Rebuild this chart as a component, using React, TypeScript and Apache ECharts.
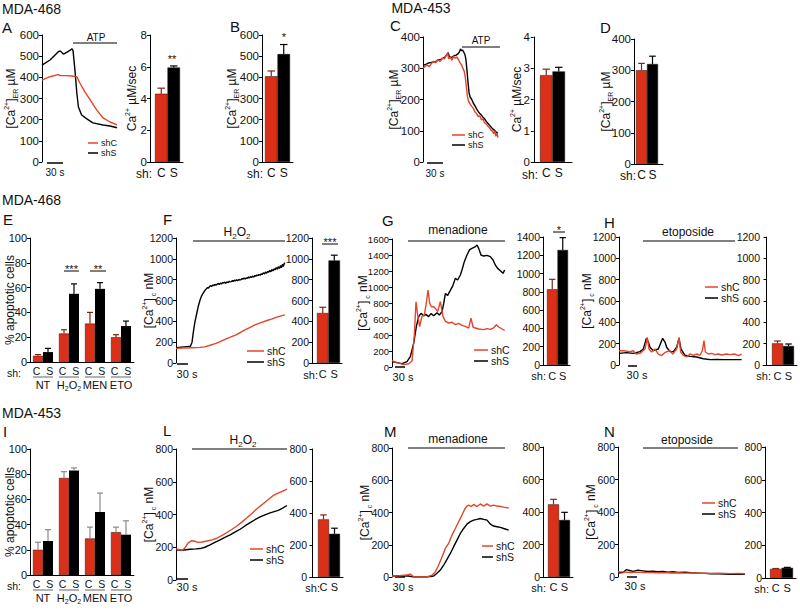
import React, { useEffect, useRef } from 'react';
import * as echarts from 'echarts';

const FONT = '"Liberation Sans", Arial, Helvetica, sans-serif';
const INK = '#111111';
const RED_BAR = '#dc2f17';
const RED_LINE = '#e4442a';
const BLACK = '#000000';
const ERR_RED = '#7d2417';
const ERR_GREY = '#8a8a8a';

// ---------------- Data ----------------
const SH_NAMES = ['shC', 'shS'];
const GROUPS = ['NT', 'H2O2', 'MEN', 'ETO'];

// A: MDA-468 [Ca2+]ER traces [time (s), µM]
const aTraceShC = [[0,387],[15,403],[30,413],[34,408],[40,408],[46,408],[55,406],[65,403],[71,372],[80,331],[90,293],[102,246],[114,208],[127,189],[140,175]];
const aTraceShS = [[0,458],[15,482],[30,520],[34,525],[40,510],[46,518],[52,527],[56,535],[58,525],[62,420],[65,326],[68,260],[74,222],[83,205],[95,185],[114,175],[127,170],[140,162]];
const aRate = [4.3, 5.95];
const aRateErr = [4.65, 6.05];
// B
const bStore = [405, 510];
const bStoreErr = [430, 555];
// C: MDA-453 [Ca2+]ER traces
const cTraceShC = [[0,300],[4,306],[8,310],[12,305],[16,316],[20,322],[24,318],[28,328],[32,322],[36,332],[40,330],[43,340],[46,348],[48,330],[51,336],[54,326],[57,338],[60,332],[63,336],[66,328],[69,318],[72,310],[75,298],[77,290],[79,270],[81,240],[83,210],[85,195],[88,185],[91,178],[94,172],[97,160],[100,155],[103,145],[106,148],[109,135],[112,138],[115,125],[118,122],[121,115],[124,110],[127,102],[130,98],[132,90],[134,100],[136,82],[138,92],[140,78]];
const cTraceShS = [[0,310],[5,312],[9,316],[14,318],[19,320],[24,322],[28,326],[33,328],[37,332],[41,336],[44,342],[47,350],[49,338],[52,334],[55,336],[58,340],[62,342],[65,346],[68,352],[70,362],[72,356],[74,358],[76,352],[78,345],[80,330],[82,295],[84,255],[86,222],[88,208],[91,200],[94,188],[97,180],[100,170],[103,162],[106,155],[109,150],[112,143],[115,138],[118,130],[121,124],[124,118],[127,112],[130,106],[133,102],[136,97],[138,94],[140,92]];
const cRate = [2.78, 2.9];
const cRateErr = [2.97, 3.03];
// D
const dStore = [300, 320];
const dStoreErr = [322, 345];
// E: MDA-468 % apoptotic cells
const eApopC = [5, 23, 31, 20];
const eApopCErr = [6, 26, 40, 22];
const eApopS = [8, 55, 59, 29];
const eApopSErr = [11, 63, 64, 33];
// F: H2O2 [Ca2+]c traces (nM)
const fTraceShC = [[0,140],[20,143],[40,147],[60,150],[72,155],[85,170],[100,188],[110,205],[125,232],[142,258],[150,270],[160,292],[172,318],[185,343],[197,366],[212,388],[227,408],[240,424],[250,438],[260,450],[272,462]];
const fTraceShS = [[0,150],[10,152],[20,155],[30,158],[36,160],[40,200],[43,290],[47,390],[52,480],[56,550],[60,605],[64,645],[68,672],[73,700],[76,712],[79,725],[81,718],[84,736],[87,742],[89,735],[92,748],[95,744],[97,755],[100,747],[103,758],[106,764],[108,753],[111,766],[114,760],[116,771],[119,768],[122,776],[124,764],[127,779],[130,772],[133,786],[135,778],[138,782],[141,792],[143,781],[146,795],[149,788],[151,799],[154,790],[157,803],[159,797],[162,800],[165,812],[167,803],[170,815],[173,806],[175,818],[178,812],[181,826],[183,815],[186,829],[189,821],[191,834],[194,825],[197,840],[199,832],[202,845],[205,838],[207,850],[210,842],[213,858],[215,849],[218,866],[221,855],[223,873],[226,862],[229,880],[231,870],[234,889],[237,877],[239,898],[242,884],[245,905],[247,893],[250,915],[253,899],[255,925],[258,908],[261,935],[263,915],[266,948],[268,925],[270,955],[272,962]];
const fPeak = [480, 985];
const fPeakErr = [535, 1035];
// G: menadione
const gTraceShC = [[0,80],[15,55],[35,30],[50,40],[60,75],[67,400],[72,816],[77,650],[83,504],[90,636],[97,650],[103,800],[108,962],[113,800],[118,754],[125,754],[130,733],[137,692],[145,817],[150,700],[153,633],[160,571],[170,550],[180,560],[190,529],[200,545],[210,520],[220,508],[230,487],[237,612],[243,500],[250,487],[260,475],[275,467],[285,480],[295,470],[305,490],[313,529],[320,500],[330,475],[338,458]];
const gTraceShS = [[0,67],[15,54],[30,42],[45,67],[55,129],[65,296],[73,504],[80,629],[87,671],[95,640],[102,658],[110,630],[117,667],[125,640],[135,679],[142,650],[150,690],[155,792],[160,917],[167,896],[175,958],[183,1021],[190,1108],[197,1087],[205,1150],[210,1212],[217,1317],[225,1400],[233,1467],[240,1483],[250,1504],[255,1525],[260,1483],[267,1400],[275,1387],[285,1396],[295,1379],[303,1337],[310,1275],[317,1233],[325,1204],[333,1171],[338,1212]];
const gPeak = [828, 1258];
const gPeakErr = [937, 1393];
// H: etoposide
const hTraceShC = [[0,134],[13,134],[33,125],[43,134],[51,103],[63,109],[78,150],[85,259],[90,150],[98,122],[108,150],[118,103],[128,88],[138,118],[153,134],[161,103],[173,150],[180,259],[185,122],[193,91],[203,75],[213,103],[223,91],[233,103],[243,91],[250,134],[255,228],[259,122],[268,103],[278,109],[288,97],[298,103],[308,94],[323,103],[333,97],[348,103],[358,88],[368,103]];
const hTraceShS = [[0,109],[23,116],[43,109],[63,125],[73,150],[82,250],[88,215],[93,166],[103,134],[118,150],[131,250],[138,215],[143,166],[153,125],[163,125],[173,166],[180,250],[186,150],[198,91],[213,81],[233,75],[253,59],[273,50],[293,53],[313,50],[333,50],[368,50]];
const hPeak = [203, 178];
const hPeakErr = [225, 197];
// I: MDA-453 % apoptotic cells
const iApopC = [20, 77, 29, 34];
const iApopCErr = [26, 82, 38, 38];
const iApopS = [27, 83, 50, 32];
const iApopSErr = [36, 85, 65, 43];
// L: H2O2 (MDA-453)
const lTraceShC = [[0,190],[10,185],[15,180],[22,195],[30,225],[38,240],[45,238],[55,230],[65,232],[77,238],[90,245],[102,255],[115,272],[127,290],[140,310],[152,330],[165,355],[177,380],[190,408],[202,435],[212,455],[222,475],[232,495],[242,515],[252,527],[262,538],[270,547],[277,555]];
const lTraceShS = [[0,185],[15,182],[35,188],[50,190],[60,192],[72,200],[85,215],[97,230],[110,245],[122,260],[135,275],[147,292],[160,310],[172,330],[185,350],[197,368],[210,385],[222,398],[235,410],[245,418],[255,425],[265,438],[277,455]];
const lPeak = [360, 270];
const lPeakErr = [388, 305];
// M: menadione (MDA-453)
const mTraceShC = [[0,6],[20,8],[45,12],[55,19],[65,2],[85,0],[105,0],[120,12],[130,31],[140,74],[150,124],[160,177],[170,208],[180,260],[190,301],[200,343],[210,384],[218,420],[225,440],[230,446],[238,437],[245,450],[255,437],[265,453],[275,440],[285,453],[295,440],[305,446],[315,440],[325,437],[335,433],[350,428]];
const mTraceShS = [[0,6],[45,8],[65,0],[105,0],[125,6],[135,23],[145,43],[155,74],[165,109],[175,146],[185,188],[195,229],[205,270],[215,301],[225,328],[235,343],[245,353],[255,357],[265,363],[275,357],[285,353],[295,328],[305,316],[315,312],[325,308],[335,301],[350,291]];
const mPeak = [447, 351];
const mPeakErr = [478, 398];
// N: etoposide (MDA-453)
const nTraceShC = [[0,32],[20,30],[40,28],[60,30],[80,27],[100,28],[120,26],[140,27],[160,25],[180,26],[200,24],[220,25],[240,23],[260,24],[280,22],[300,23],[320,22],[340,21],[360,22],[381,20]];
const nTraceShS = [[0,25],[15,28],[25,45],[35,40],[45,35],[60,42],[75,38],[90,34],[105,36],[120,32],[135,34],[150,30],[165,32],[180,28],[200,30],[220,26],[240,24],[260,22],[280,20],[300,19],[320,18],[340,17],[360,18],[381,16]];
const nPeak = [55, 62];
const nPeakErr = [58, 65];

// ---------------- Helpers ----------------
const RICH = {
  n: { fontSize: 12, lineHeight: 16, fontFamily: FONT, color: INK },
  sup: { fontSize: 7, lineHeight: 16, verticalAlign: 'top', fontFamily: FONT, color: INK },
  sub: { fontSize: 7, lineHeight: 16, verticalAlign: 'bottom', fontFamily: FONT, color: INK },
  g: { fontSize: 11, lineHeight: 15, fontFamily: FONT, color: INK },
  gs: { fontSize: 7, lineHeight: 15, verticalAlign: 'bottom', fontFamily: FONT, color: INK },
  t: { fontSize: 12, lineHeight: 16, fontFamily: FONT, color: INK },
  ts: { fontSize: 8, lineHeight: 16, verticalAlign: 'bottom', fontFamily: FONT, color: INK },
  cs: { fontSize: 10.5, lineHeight: 13, fontFamily: FONT, color: INK },
};
const NAME_ER = '{n|[Ca}{sup|2+}{n|]}{sub|ER}{n| \u00b5M}';
const NAME_C = '{n|[Ca}{sup|2+}{n|]}{sub| c}{n| nM}';
const NAME_RATE = '{n|Ca}{sup|2+}{n| \u00b5M/sec}';
const NAME_APOP = '{n|% apoptotic cells}';
const groupLabel = (g: string) => (g === 'H2O2' ? '{g|H}{gs|2}{g|O}{gs|2}' : '{g|' + g + '}');

function yAxisCfg(gi: number, max: number, interval: number, name: string, nameGap: number, fs: number) {
  return {
    type: 'value', gridIndex: gi, min: 0, max, interval,
    axisLine: { show: true, lineStyle: { color: BLACK, width: 1 } },
    axisTick: { show: true, length: 3, inside: false, lineStyle: { color: BLACK, width: 1 } },
    axisLabel: { show: true, fontSize: fs, fontFamily: FONT, color: INK, margin: 3, formatter: (v: number) => String(v) },
    splitLine: { show: false },
    name, nameLocation: 'middle', nameGap, nameRotate: 90, nameMoveOverlap: false,
    nameTextStyle: { fontSize: 12, fontFamily: FONT, color: INK, lineHeight: 16, rich: RICH },
  };
}

function errSeries(gi: number, data: number[][], half: number, colors: string[], offset: number) {
  return {
    type: 'custom', xAxisIndex: gi, yAxisIndex: gi, data, z: 5, silent: true,
    renderItem: (params: any, api: any) => {
      const x = api.value(0), v = api.value(1), e = api.value(2);
      const a = api.coord([x, v]);
      const b = api.coord([x, e]);
      const cx = a[0] + offset;
      const stroke = colors[params.dataIndex % colors.length];
      return {
        type: 'group',
        children: [
          { type: 'line', shape: { x1: cx, y1: a[1], x2: cx, y2: b[1] }, style: { stroke, lineWidth: 1.2 } },
          { type: 'line', shape: { x1: cx - half, y1: b[1], x2: cx + half, y2: b[1] }, style: { stroke, lineWidth: 1.2 } },
        ],
      };
    },
  };
}

function buildOption() {
  const grids: any[] = [];
  const xAxes: any[] = [];
  const yAxes: any[] = [];
  const series: any[] = [];

  const addTrace = (p: any, shC: number[][], shS: number[][]) => {
    const gi = grids.length;
    grids.push({ left: p.x, top: p.top, width: p.w, height: p.zero - p.top, outerBoundsMode: 'none' });
    xAxes.push({ type: 'value', gridIndex: gi, min: 0, max: p.tmax, show: false });
    yAxes.push(yAxisCfg(gi, p.ymax, p.iv, p.name, p.gap, p.fs));
    series.push({ type: 'line', name: SH_NAMES[1], xAxisIndex: gi, yAxisIndex: gi, data: shS, showSymbol: false, symbol: 'none', silent: true, lineStyle: { color: BLACK, width: 1.4 }, itemStyle: { color: BLACK } });
    series.push({ type: 'line', name: SH_NAMES[0], xAxisIndex: gi, yAxisIndex: gi, data: shC, showSymbol: false, symbol: 'none', silent: true, lineStyle: { color: RED_LINE, width: 1.4 }, itemStyle: { color: RED_LINE } });
  };

  const addPair = (p: any, vals: number[], errs: number[]) => {
    const gi = grids.length;
    const u = p.bw;
    const xmin = 0.5 - (p.bl - p.x) / u;
    const xmax = xmin + (p.xe - p.x) / u;
    grids.push({ left: p.x, top: p.top, width: p.xe - p.x, height: p.zero - p.top, outerBoundsMode: 'none' });
    xAxes.push({
      type: 'value', gridIndex: gi, min: xmin, max: xmax,
      axisLine: { show: true, onZero: false, lineStyle: { color: BLACK, width: 1 } },
      axisTick: { show: false }, splitLine: { show: false },
      axisLabel: { show: true, customValues: [1, 2], formatter: (v: number) => (v === 1 ? 'C' : v === 2 ? 'S' : ''), fontSize: p.lfs, fontFamily: FONT, color: INK, margin: p.lm },
    });
    yAxes.push(yAxisCfg(gi, p.ymax, p.iv, p.name || '', p.gap || 0, p.fs));
    series.push({
      type: 'bar', xAxisIndex: gi, yAxisIndex: gi, barWidth: u, silent: true,
      data: vals.map((v, i) => ({ value: [i + 1, v], itemStyle: { color: i === 0 ? RED_BAR : BLACK } })),
      itemStyle: { borderColor: '#2a0a05', borderWidth: 0.5 },
    });
    series.push(errSeries(gi, vals.map((v, i) => [i + 1, v, errs[i]]), u * 0.3, [ERR_RED, BLACK], 0));
  };

  const addGroup = (p: any, c: number[], ce: number[], s: number[], se: number[], errCols: string[]) => {
    const gi = grids.length;
    grids.push({ left: p.x, top: p.top, width: p.w, height: p.zero - p.top, outerBoundsMode: 'none' });
    xAxes.push({
      type: 'category', gridIndex: gi, data: GROUPS,
      axisLine: { show: true, lineStyle: { color: BLACK, width: 1 } },
      axisTick: { show: false }, splitLine: { show: false },
      axisLabel: { show: true, interval: 0, margin: 2, formatter: (v: string) => '{cs|C  S}\n' + groupLabel(v), rich: RICH },
    });
    yAxes.push(yAxisCfg(gi, 100, 20, NAME_APOP, p.gap, 11));
    series.push({ type: 'bar', xAxisIndex: gi, yAxisIndex: gi, data: c, barWidth: 10, barGap: '0%', silent: true, itemStyle: { color: RED_BAR, borderColor: '#2a0a05', borderWidth: 0.5 } });
    series.push({ type: 'bar', xAxisIndex: gi, yAxisIndex: gi, data: s, barWidth: 10, barGap: '0%', silent: true, itemStyle: { color: BLACK } });
    series.push(errSeries(gi, c.map((v, i) => [i, v, ce[i]]), 3, [errCols[0]], -5));
    series.push(errSeries(gi, s.map((v, i) => [i, v, se[i]]), 3, [errCols[1]], 5));
  };

  // ---- top row ----
  addTrace({ x: 42, top: 35, zero: 162, w: 75, tmax: 140, ymax: 600, iv: 100, name: NAME_ER, gap: 23, fs: 11.5 }, aTraceShC, aTraceShS);
  addPair({ x: 150, top: 35, zero: 162, bw: 12.5, bl: 155, xe: 183, ymax: 8, iv: 2, name: NAME_RATE, gap: 10, fs: 11.5, lm: 5, lfs: 12 }, aRate, aRateErr);
  addPair({ x: 262, top: 35, zero: 162, bw: 12.5, bl: 265, xe: 293, ymax: 600, iv: 100, name: NAME_ER, gap: 22, fs: 11.5, lm: 5, lfs: 12 }, bStore, bStoreErr);
  addTrace({ x: 423, top: 37, zero: 162, w: 75, tmax: 140, ymax: 400, iv: 100, name: NAME_ER, gap: 21, fs: 11.5 }, cTraceShC, cTraceShS);
  addPair({ x: 533, top: 37, zero: 162, bw: 12.5, bl: 540, xe: 572, ymax: 4, iv: 1, name: NAME_RATE, gap: 8, fs: 11.5, lm: 5, lfs: 12 }, cRate, cRateErr);
  addPair({ x: 634, top: 39, zero: 164, bw: 11, bl: 636, xe: 663, ymax: 400, iv: 100, name: NAME_ER, gap: 20, fs: 11.5, lm: 5, lfs: 12 }, dStore, dStoreErr);
  // ---- middle row ----
  addGroup({ x: 30, top: 238, zero: 362, w: 104, gap: 12 }, eApopC, eApopCErr, eApopS, eApopSErr, [ERR_RED, BLACK]);
  addTrace({ x: 176, top: 238, zero: 363, w: 109, tmax: 272, ymax: 1200, iv: 200, name: NAME_C, gap: 19, fs: 10.5 }, fTraceShC, fTraceShS);
  addPair({ x: 312, top: 238, zero: 363, bw: 11.5, bl: 317, xe: 342, ymax: 1200, iv: 200, fs: 10.5, lm: 5, lfs: 11 }, fPeak, fPeakErr);
  addTrace({ x: 392, top: 239, zero: 367, w: 113, tmax: 339, ymax: 1600, iv: 200, name: NAME_C, gap: 21, fs: 9.5 }, gTraceShC, gTraceShS);
  addPair({ x: 543, top: 237, zero: 365, bw: 10.5, bl: 547, xe: 570, ymax: 1400, iv: 200, fs: 10.5, lm: 5, lfs: 11 }, gPeak, gPeakErr);
  addTrace({ x: 619, top: 237, zero: 365, w: 123, tmax: 369, ymax: 1200, iv: 200, name: NAME_C, gap: 24, fs: 10.5 }, hTraceShC, hTraceShS);
  addPair({ x: 763, top: 237, zero: 365, bw: 11, bl: 772, xe: 797, ymax: 1200, iv: 200, fs: 10.5, lm: 5, lfs: 11 }, hPeak, hPeakErr);
  // ---- bottom row ----
  addGroup({ x: 30, top: 449, zero: 575, w: 104, gap: 12 }, iApopC, iApopCErr, iApopS, iApopSErr, [ERR_GREY, ERR_GREY]);
  addTrace({ x: 176, top: 449, zero: 580, w: 111, tmax: 277, ymax: 800, iv: 200, name: NAME_C, gap: 19, fs: 10.5 }, lTraceShC, lTraceShS);
  addPair({ x: 310, top: 449, zero: 577, bw: 11, bl: 318, xe: 343, ymax: 800, iv: 200, fs: 10.5, lm: 4, lfs: 11 }, lPeak, lPeakErr);
  addTrace({ x: 392, top: 448, zero: 577, w: 118, tmax: 354, ymax: 800, iv: 200, name: NAME_C, gap: 19, fs: 10.5 }, mTraceShC, mTraceShS);
  addPair({ x: 543, top: 447, zero: 577, bw: 11, bl: 548, xe: 573, ymax: 800, iv: 200, fs: 10.5, lm: 4, lfs: 11 }, mPeak, mPeakErr);
  addTrace({ x: 618, top: 447, zero: 577, w: 127, tmax: 381, ymax: 800, iv: 200, name: NAME_C, gap: 19, fs: 10.5 }, nTraceShC, nTraceShS);
  addPair({ x: 765, top: 447, zero: 578, bw: 11.5, bl: 770, xe: 796, ymax: 800, iv: 200, fs: 10.5, lm: 4, lfs: 11 }, nPeak, nPeakErr);

  // ---- annotations ----
  const g: any[] = [];
  const T = (x: number, y: number, text: string, fs = 12, align = 'left', rich?: any) =>
    g.push({ type: 'text', x, y, silent: true, style: { text, fontSize: fs, fontFamily: FONT, fill: INK, align, textAlign: align, verticalAlign: 'middle', textVerticalAlign: 'middle', rich } });
  const Ln = (x1: number, y1: number, x2: number, y2: number, stroke = BLACK, w = 1) =>
    g.push({ type: 'line', silent: true, shape: { x1, y1, x2, y2 }, style: { stroke, lineWidth: w } });
  const legend = (x: number, y: number, dy: number, len: number, fs: number) => {
    Ln(x, y, x + len, y, RED_LINE, 1.5);
    T(x + len + 3, y, SH_NAMES[0], fs);
    Ln(x, y + dy, x + len, y + dy, BLACK, 1.5);
    T(x + len + 3, y + dy, SH_NAMES[1], fs);
  };
  const h2o2 = '{t|H}{ts|2}{t|O}{ts|2}';

  // titles & letters
  T(2, 9, 'MDA-468', 14); T(2, 27, 'A', 15); T(230, 26, 'B', 15);
  T(421, 8, 'MDA-453', 14, 'center'); T(390, 25, 'C', 15); T(600, 27, 'D', 15);
  T(2, 200, 'MDA-468', 14); T(3, 219, 'E', 15); T(163, 219, 'F', 15); T(382, 220, 'G', 15); T(604, 222, 'H', 15);
  T(2, 413, 'MDA-453', 14); T(3, 431, 'I', 15); T(163, 430, 'L', 15); T(384, 431, 'M', 15); T(604, 431, 'N', 15);

  // treatment bars
  Ln(73, 43, 117, 43); T(96, 37, 'ATP', 10, 'center');
  Ln(462, 47, 500, 47); T(481, 40, 'ATP', 10, 'center');
  Ln(193, 241, 285, 241); T(237, 232, h2o2, 12, 'center', RICH);
  Ln(408, 241, 505, 241); T(458, 230, 'menadione', 12, 'center');
  Ln(643, 241, 735, 241); T(688, 232, 'etoposide', 12, 'center');
  Ln(192, 449, 287, 449); T(243, 440, h2o2, 12, 'center', RICH);
  Ln(408, 448, 505, 448); T(458, 439, 'menadione', 12, 'center');
  Ln(643, 448, 738, 448); T(687, 440, 'etoposide', 12, 'center');

  // time scale bars
  const sb = (x1: number, x2: number, y: number, tx: number, ty: number, fs: number) => { Ln(x1, y, x2, y, BLACK, 1.5); T(tx, ty, '30 s', fs, 'center'); };
  sb(47, 63, 163, 55, 172, 10);
  sb(427, 443, 163, 435, 173, 10);
  sb(177, 188, 364, 187, 374, 11);
  sb(395, 405, 367, 403, 377, 11);
  sb(628, 637, 366, 637, 375, 11);
  sb(176, 188, 579, 187, 587, 11);
  sb(395, 405, 577, 403, 587, 11);
  sb(627, 637, 577, 635, 586, 11);

  // legends
  legend(88, 143, 10, 10, 9);
  legend(452, 135, 10, 13, 9);
  legend(247, 351, 11, 17, 10.5);
  legend(474, 350, 11, 14, 10.5);
  legend(705, 287, 11, 13, 10.5);
  legend(250, 549, 11, 13, 10.5);
  legend(482, 546, 11, 11, 10.5);
  legend(702, 503, 11, 13, 10.5);

  // "sh:" labels
  const shL = (x: number, y: number, fs: number) => T(x, y, 'sh:', fs, 'right');
  shL(152, 174, 12); shL(263, 174, 12); shL(538, 175, 12); shL(636, 176, 12);
  shL(318, 375, 11); shL(546, 376, 11); shL(771, 376, 11);
  shL(320, 588, 11); shL(546, 588, 11); shL(769, 589, 11);
  shL(21, 373, 10.5); shL(21, 586, 10.5);

  // group underlines
  for (let i = 0; i < 4; i++) {
    const c = 30 + 13 + 26 * i;
    Ln(c - 10, 377, c + 10, 377, '#666');
    Ln(c - 10, 590, c + 10, 590, '#666');
  }

  // significance
  Ln(64, 271, 79, 271); T(71.5, 269, '***', 11, 'center');
  Ln(90, 271, 106, 271); T(98, 269, '**', 11, 'center');
  T(172, 59, '**', 11, 'center');
  T(284, 37, '*', 11, 'center');
  Ln(322, 244, 338, 244); T(330, 242, '***', 11, 'center');
  Ln(553, 232, 565, 232); T(559, 230, '*', 11, 'center');

  return {
    animation: false,
    backgroundColor: '#ffffff',
    textStyle: { fontFamily: FONT },
    grid: grids,
    xAxis: xAxes,
    yAxis: yAxes,
    series,
    graphic: { elements: g },
  };
}

export default function App() {
  const ref = useRef<HTMLDivElement>(null);
  useEffect(() => {
    const chart = echarts.init(ref.current as HTMLDivElement, null, { renderer: 'svg' });
    chart.setOption(buildOption() as any);
    return () => chart.dispose();
  }, []);
  return <div ref={ref} style={{ position: 'absolute', left: 0, top: 0, width: 800, height: 610, background: '#fff' }} />;
}
